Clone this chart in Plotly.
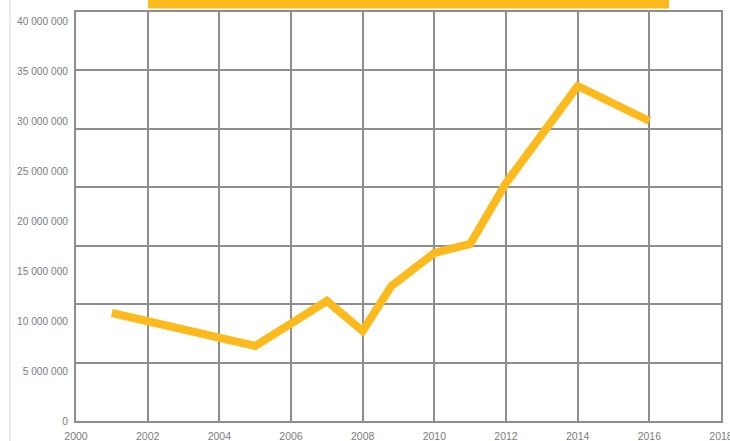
import plotly.graph_objects as go

years = [2001, 2005, 2007, 2008, 2008.8, 2010, 2011, 2012, 2014, 2016]
values = [10.8e6, 7.5e6, 12.0e6, 9.0e6, 13.5e6, 16.8e6, 17.7e6, 23.8e6, 33.5e6, 30.0e6]

y_ticks = [0, 5e6, 10e6, 15e6, 20e6, 25e6, 30e6, 35e6, 40e6]
y_labels = ["0", "5 000 000", "10 000 000", "15 000 000", "20 000 000",
            "25 000 000", "30 000 000", "35 000 000", "40 000 000"]
x_ticks = list(range(2000, 2019, 2))

ORANGE = "#FDBA1C"
GRID = "#8e8e8e"
LABEL = "#7c7c7c"

fig = go.Figure()
fig.add_trace(go.Scatter(x=years, y=values, mode="lines",
                         line=dict(color=ORANGE, width=8),
                         hoverinfo="skip", showlegend=False))
# invisible trace to activate grid axis
fig.add_trace(go.Scatter(x=[2000], y=[0], yaxis="y2", mode="markers",
                         marker=dict(opacity=0), hoverinfo="skip", showlegend=False))

fig.update_layout(
    width=730, height=441,
    margin=dict(l=76, r=9, t=12, b=20, autoexpand=False),
    paper_bgcolor="white", plot_bgcolor="white",
    font=dict(family="Liberation Sans, Arial", size=10, color=LABEL),
    xaxis=dict(range=[2000, 2018], tickvals=x_ticks, ticktext=[str(t) for t in x_ticks],
               showgrid=True, gridcolor=GRID, gridwidth=1.5, automargin=False,
               ticklabeloverflow="allow", ticklabelstandoff=5,
               showline=True, linecolor=GRID, linewidth=1.5, mirror=True,
               zeroline=False, ticks="", tickfont=dict(size=10.5, color=LABEL)),
    yaxis=dict(range=[0, 40.9e6], tickvals=y_ticks, ticktext=y_labels,
               showgrid=False, zeroline=False, showline=False, ticks="",
               automargin=False, ticklabelstandoff=7,
               tickfont=dict(size=10.2, color=LABEL)),
    yaxis2=dict(range=[0, 7], overlaying="y", side="right", tickvals=list(range(8)),
                showticklabels=False, showgrid=True, gridcolor=GRID, gridwidth=1.5,
                showline=True, linecolor=GRID, linewidth=1.5, mirror=True,
                automargin=False, zeroline=False, ticks=""),
    shapes=[
        dict(type="rect", xref="paper", yref="paper",
             x0=(148 - 76) / 645, x1=(669 - 76) / 645,
             y0=(421 - 8.5) / 409, y1=(421 + 2) / 409,
             fillcolor=ORANGE, line=dict(width=0), layer="above"),
        dict(type="line", xref="paper", yref="paper",
             x0=-66 / 645, x1=-66 / 645, y0=-20 / 409, y1=(421 + 2) / 409,
             line=dict(color="#ececec", width=2)),
    ],
)
fig.data[1].update(xaxis="x")
fig.write_html("out.html", config={"displayModeBar": False},
               post_script="document.body.style.margin='0';document.body.style.overflow='hidden';")
